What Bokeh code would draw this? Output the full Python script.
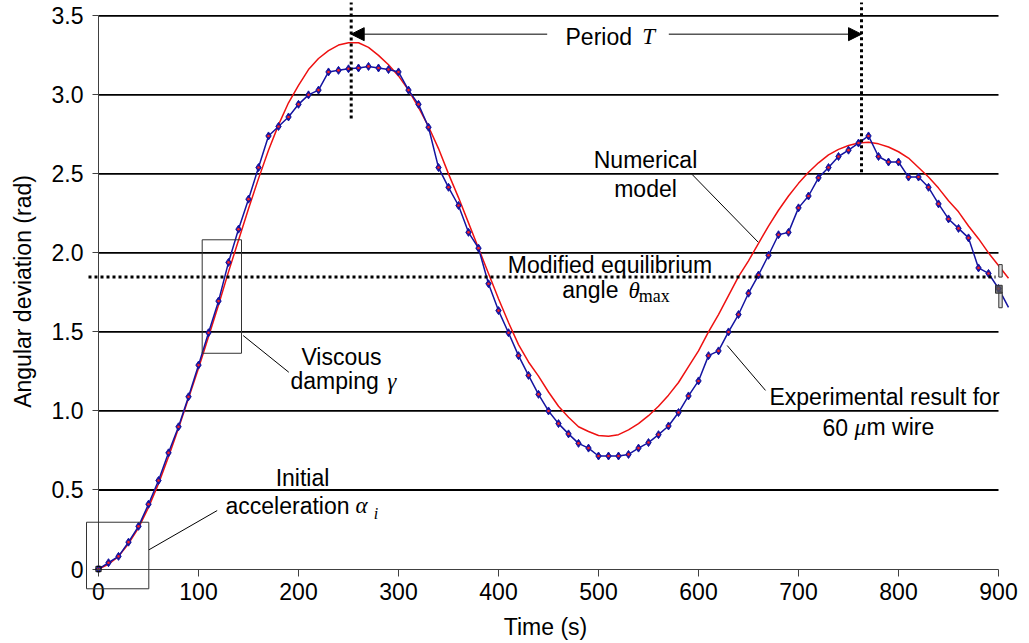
import math
from bokeh.plotting import figure
from bokeh.models import (Range1d, FixedTicker, CustomJSTickFormatter, Label,
                          BoxAnnotation, Arrow, NormalHead)
from bokeh.embed import file_html
from bokeh.resources import INLINE

# ---------------- data ----------------
exp_time = list(range(0, 920, 10))
exp_angle = [0.0, 0.04, 0.08, 0.17, 0.27, 0.41, 0.56, 0.735, 0.90, 1.09,
             1.29, 1.495, 1.695, 1.94, 2.15, 2.34, 2.54, 2.74, 2.80, 2.86,
             2.94, 3.00, 3.03, 3.145, 3.155, 3.165, 3.17, 3.18, 3.17, 3.16,
             3.145, 3.03, 2.94, 2.795, 2.54, 2.415, 2.30, 2.13, 2.03, 1.805,
             1.635, 1.495, 1.35, 1.225, 1.105, 1.00, 0.92, 0.855, 0.795, 0.765,
             0.715, 0.715, 0.715, 0.725, 0.765, 0.80, 0.85, 0.905, 0.99, 1.095,
             1.19, 1.35, 1.38, 1.50, 1.61, 1.745, 1.86, 1.985, 2.115, 2.13,
             2.285, 2.36, 2.475, 2.54, 2.61, 2.65, 2.695, 2.74, 2.61, 2.575,
             2.575, 2.48, 2.48, 2.415, 2.31, 2.215, 2.155, 2.095, 1.905, 1.87,
             1.775, 1.655]

model_time = list(range(0, 920, 10))
model_angle = [0.0, 0.03, 0.08, 0.16, 0.26, 0.39, 0.54, 0.71, 0.89, 1.08,
               1.27, 1.47, 1.67, 1.88, 2.08, 2.28, 2.47, 2.65, 2.81, 2.95,
               3.06, 3.16, 3.23, 3.28, 3.315, 3.33, 3.33, 3.30, 3.25, 3.19,
               3.12, 3.03, 2.92, 2.80, 2.66, 2.50, 2.35, 2.19, 2.03, 1.87,
               1.71, 1.56, 1.42, 1.31, 1.22, 1.12, 1.03, 0.96, 0.90, 0.87,
               0.845, 0.84, 0.85, 0.88, 0.92, 0.97, 1.03, 1.10, 1.18, 1.28,
               1.38, 1.50, 1.61, 1.73, 1.85, 1.95, 2.06, 2.17, 2.27, 2.36,
               2.44, 2.51, 2.57, 2.62, 2.655, 2.68, 2.695, 2.70, 2.69, 2.67,
               2.64, 2.60, 2.54, 2.48, 2.41, 2.33, 2.26, 2.17, 2.09, 2.00,
               1.92, 1.84]

x_ticks = [0, 100, 200, 300, 400, 500, 600, 700, 800, 900]
y_ticks = [0, 0.5, 1.0, 1.5, 2.0, 2.5, 3.0, 3.5]

equilibrium_angle = 1.847
period_start = 252.7
period_end = 763.0

SANS = "Liberation Sans"
SERIF = "Liberation Serif"
FS = "23px"

# ---------------- figure ----------------
p = figure(frame_width=1029, frame_height=643,
           x_range=Range1d(-98, 931), y_range=Range1d(-0.4713, 3.597),
           output_backend="svg", toolbar_location=None,
           min_border=0, min_border_left=0, min_border_right=0,
           min_border_top=0, min_border_bottom=0)
p.outline_line_color = None
p.grid.visible = False
p.background_fill_color = "white"
p.border_fill_color = "white"

for ax, ticks, bnds in ((p.xaxis[0], x_ticks, (x_ticks[0], x_ticks[-1])),
                        (p.yaxis[0], y_ticks, (y_ticks[0], y_ticks[-1]))):
    ax.ticker = FixedTicker(ticks=ticks)
    ax.bounds = bnds
    ax.fixed_location = 0
    ax.major_tick_in = 0
    ax.minor_tick_in = 0
    ax.minor_tick_out = 0
    ax.axis_line_color = "#404040"
    ax.major_tick_line_color = "#404040"
    ax.major_label_text_font = SANS
    ax.major_label_text_font_size = FS
    ax.major_label_text_color = "black"

p.xaxis[0].major_tick_out = 7
p.xaxis[0].major_label_standoff = 7
p.yaxis[0].major_tick_out = 6
p.yaxis[0].major_label_standoff = 9
p.yaxis[0].formatter = CustomJSTickFormatter(
    code="return tick === 0 ? '0' : tick.toFixed(1);")

# horizontal grid lines (from 0 to 900 only)
p.segment(x0=x_ticks[0], x1=x_ticks[-1], y0=y_ticks[1:], y1=y_ticks[1:],
          line_color="black", line_width=1.8)

# numerical model
p.line(model_time, model_angle, line_color="#ee1111", line_width=1.5)

# experimental result
p.line(exp_time, exp_angle, line_color="#1414a0", line_width=1.5)
p.scatter(exp_time[:-1], exp_angle[:-1], marker="diamond", size=8,
          fill_color="#1414a0", line_color="#1414a0")
p.scatter(exp_time[:-1], exp_angle[:-1], marker="circle", size=2.6,
          fill_color="#ff2020", line_color=None)

# dotted lines
p.segment(x0=[period_start, period_end], x1=[period_start, period_end],
          y0=[2.85, 2.51], y1=[3.584, 3.584],
          line_color="black", line_width=3, line_dash="3 3")
p.segment(x0=-10, x1=897, y0=equilibrium_angle, y1=equilibrium_angle,
          line_color="black", line_width=3, line_dash="3 3")

# period arrows
for xs, xe in ((448.7, period_start), (570.3, period_end)):
    p.add_layout(Arrow(end=NormalHead(size=13, fill_color="black", line_color="black"),
                       x_start=xs, y_start=3.384, x_end=xe, y_end=3.384,
                       line_color="black", line_width=1))

# leader lines
p.segment(x0=[593.7, 628.7, 144.7, 50.3], y0=[2.496, 1.414, 1.477, 0.121],
          x1=[659.7, 667.0, 190.3, 118.7], y1=[2.068, 1.130, 1.245, 0.370],
          line_color="black", line_width=1)

# boxes
def box(l, r, b, t, fill=None, alpha=0.0, line="#333333"):
    p.add_layout(BoxAnnotation(left=l, right=r, bottom=b, top=t,
                               fill_color=fill, fill_alpha=alpha,
                               line_color=line, line_width=1, line_alpha=1))

box(103.7, 143.0, 1.365, 2.083)
box(-12.0, 50.3, -0.125, 0.296)
box(-2.6, 2.6, -0.017, 0.017, line="black")
box(900.3, 903.7, 1.847, 1.926, fill="#dddddd", alpha=1.0)
box(900.3, 903.7, 1.653, 1.751, fill="#dddddd", alpha=1.0)
box(897.0, 903.7, 1.745, 1.795, fill="#555555", alpha=0.8)

# text (baseline positions, corrected for the renderer's offset)
def note(x, y, text, align="left", font=SANS, style="normal", size=FS,
         baseline="alphabetic", angle=0.0):
    px = float(size.replace("px", ""))
    shift = 0.32 * px / 158.06 if baseline == "alphabetic" else 0.0
    p.add_layout(Label(x=x, y=y + shift, text=text, text_align=align,
                       text_baseline=baseline, text_font=font,
                       text_font_style=style, text_font_size=size,
                       text_color="black", angle=angle))

note(467, 3.320, "Period")
note(543.7, 3.320, "T", font=SERIF, style="italic")

note(547, 2.542, "Numerical", align="center")
note(547, 2.359, "model", align="center")

note(511.5, 1.876, "Modified equilibrium", align="center")
note(463.7, 1.716, "angle")
note(530.0, 1.716, "\u03b8", font=SERIF, style="italic")
note(540.3, 1.688, "max", font=SERIF, size="18px")

note(243, 1.294, "Viscous", align="center")
note(192, 1.140, "damping")
note(288.7, 1.140, "\u03b3", font=SERIF, style="italic")

note(204, 0.528, "Initial", align="center")
note(127, 0.353, "acceleration")
note(257, 0.353, "\u03b1", font=SERIF, style="italic")
note(275.3, 0.320, "i", font=SERIF, style="italic", size="16px")

note(786, 1.041, "Experimental result for", align="center")
note(724, 0.851, "60")
note(756, 0.851, "\u03bc", font=SERIF, style="italic")
note(768, 0.851, "m wire")

note(447, -0.370, "Time (s)", align="center", baseline="middle")
note(-76, 1.756, "Angular deviation (rad)", align="center", baseline="middle",
     angle=math.pi / 2)

open("out.html", "w").write(file_html(p, INLINE))
